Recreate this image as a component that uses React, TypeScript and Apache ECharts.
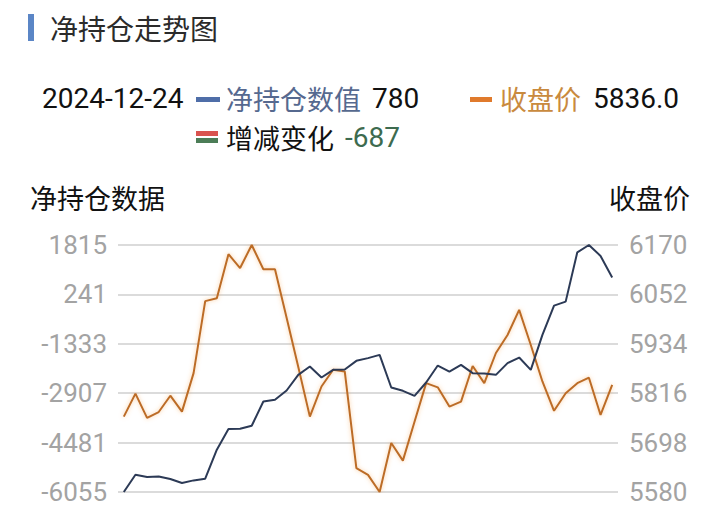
import React, { useEffect, useRef } from "react";
import * as echarts from "echarts";

const dates = [
  "2024-10-25", "2024-10-28", "2024-10-29", "2024-10-30", "2024-10-31",
  "2024-11-01", "2024-11-04", "2024-11-05", "2024-11-06", "2024-11-07", "2024-11-08",
  "2024-11-11", "2024-11-12", "2024-11-13", "2024-11-14", "2024-11-15",
  "2024-11-18", "2024-11-19", "2024-11-20", "2024-11-21", "2024-11-22",
  "2024-11-25", "2024-11-26", "2024-11-27", "2024-11-28", "2024-11-29",
  "2024-12-02", "2024-12-03", "2024-12-04", "2024-12-05", "2024-12-06",
  "2024-12-09", "2024-12-10", "2024-12-11", "2024-12-12", "2024-12-13",
  "2024-12-16", "2024-12-17", "2024-12-18", "2024-12-19", "2024-12-20",
  "2024-12-23", "2024-12-24",
];

const netPosition = [
  -6055, -5504, -5577, -5558, -5641, -5768, -5685, -5631, -4708, -4050, -4040,
  -3944, -3171, -3117, -2821, -2322, -2058, -2407, -2163, -2150, -1876,
  -1790, -1685, -2726, -2831, -2990, -2567, -2026, -2217, -2003, -2268,
  -2280, -2322, -1949, -1771, -2163, -1049, -116, 11, 1583, 1815,
  1467, 780,
];

const closePrice = [
  5760, 5815, 5757, 5771, 5810, 5772, 5864, 6036, 6043, 6148, 6115,
  6170, 6112, 6112, 5996, 5879, 5760, 5832, 5872, 5868, 5637,
  5621, 5580, 5697, 5655, 5748, 5840, 5830, 5784, 5796, 5881,
  5840, 5912, 5955, 6015, 5931, 5844, 5774, 5816, 5840, 5853,
  5764, 5836,
];

const leftTicks = [-6055, -4481, -2907, -1333, 241, 1815];
const rightTicks = [5580, 5698, 5816, 5934, 6052, 6170];

const headerDate = "2024-12-24";
const headerNet = "780";
const headerClose = "5836.0";
const headerChange = "-687";

const NUM_FONT = "Roboto, 'Noto Sans CJK SC', sans-serif";
const CJK_FONT = "'Noto Sans CJK SC', sans-serif";

export default function App() {
  const ref = useRef<HTMLDivElement>(null);

  useEffect(() => {
    if (!ref.current) return;
    const chart = echarts.init(ref.current, undefined, { renderer: "svg" });

    const txt = (x: number, y: number, text: string, fill: string, font: string, size: number, align = "left") => ({
      type: "text",
      x,
      y,
      style: { text, fill, fontFamily: font, fontSize: size, align, verticalAlign: "middle" },
    });

    chart.setOption({
      animation: false,
      backgroundColor: "#ffffff",
      grid: { left: 118, right: 102, top: 245, bottom: 36, containLabel: false },
      xAxis: {
        type: "category",
        data: dates,
        boundaryGap: true,
        axisLine: { show: false },
        axisTick: { show: false },
        axisLabel: { show: false },
        splitLine: { show: false },
      },
      yAxis: [
        {
          type: "value",
          min: leftTicks[0],
          max: leftTicks[leftTicks.length - 1],
          interval: leftTicks[1] - leftTicks[0],
          axisLine: { show: false },
          axisTick: { show: false },
          axisLabel: {
            color: "#a3a3a3",
            fontSize: 26,
            fontFamily: NUM_FONT,
            margin: 11,
            formatter: (v: number) => String(Math.round(v)),
          },
          splitLine: { lineStyle: { color: "#cfcfcf", width: 1.5 } },
        },
        {
          type: "value",
          min: rightTicks[0],
          max: rightTicks[rightTicks.length - 1],
          interval: rightTicks[1] - rightTicks[0],
          axisLine: { show: false },
          axisTick: { show: false },
          axisLabel: {
            color: "#a3a3a3",
            fontSize: 26,
            fontFamily: NUM_FONT,
            margin: 11,
            formatter: (v: number) => String(Math.round(v)),
          },
          splitLine: { show: false },
        },
      ],
      series: [
        {
          name: "净持仓数值",
          type: "line",
          yAxisIndex: 0,
          data: netPosition,
          showSymbol: false,
          lineStyle: { color: "#2c3a56", width: 2 },
          z: 3,
        },
        {
          name: "收盘价",
          type: "line",
          yAxisIndex: 1,
          data: closePrice,
          showSymbol: false,
          lineStyle: {
            color: "#bc6c28",
            width: 2,
            shadowColor: "rgba(245,160,70,0.55)",
            shadowBlur: 4,
          },
          z: 2,
        },
      ],
      graphic: [
        { type: "rect", shape: { x: 28, y: 14, width: 6, height: 27 }, style: { fill: "#5b86c6" } },
        txt(50, 28, "净持仓走势图", "#2b2b2b", CJK_FONT, 28),
        txt(42, 98, headerDate, "#111111", NUM_FONT, 28),
        { type: "rect", shape: { x: 196, y: 97, width: 24, height: 5 }, style: { fill: "#4f6ea8" } },
        txt(226, 98, "净持仓数值", "#56698f", CJK_FONT, 27),
        txt(372, 98, headerNet, "#111111", NUM_FONT, 28),
        { type: "rect", shape: { x: 470, y: 97, width: 22, height: 5 }, style: { fill: "#e07a2c" } },
        txt(500, 98, "收盘价", "#c98a3e", CJK_FONT, 27),
        txt(593, 98, headerClose, "#111111", NUM_FONT, 28),
        { type: "rect", shape: { x: 196, y: 131, width: 22, height: 5 }, style: { fill: "#d9534f" } },
        { type: "rect", shape: { x: 196, y: 138, width: 22, height: 5 }, style: { fill: "#4c7d57" } },
        txt(226, 137, "增减变化", "#111111", CJK_FONT, 27),
        txt(345, 137, headerChange, "#3d6b4f", NUM_FONT, 28),
        txt(30, 197, "净持仓数据", "#111111", CJK_FONT, 27),
        txt(690, 197, "收盘价", "#111111", CJK_FONT, 27, "right"),
      ],
    });

    return () => chart.dispose();
  }, []);

  return <div ref={ref} style={{ width: 720, height: 528, position: "absolute", left: 0, top: 0 }} />;
}
